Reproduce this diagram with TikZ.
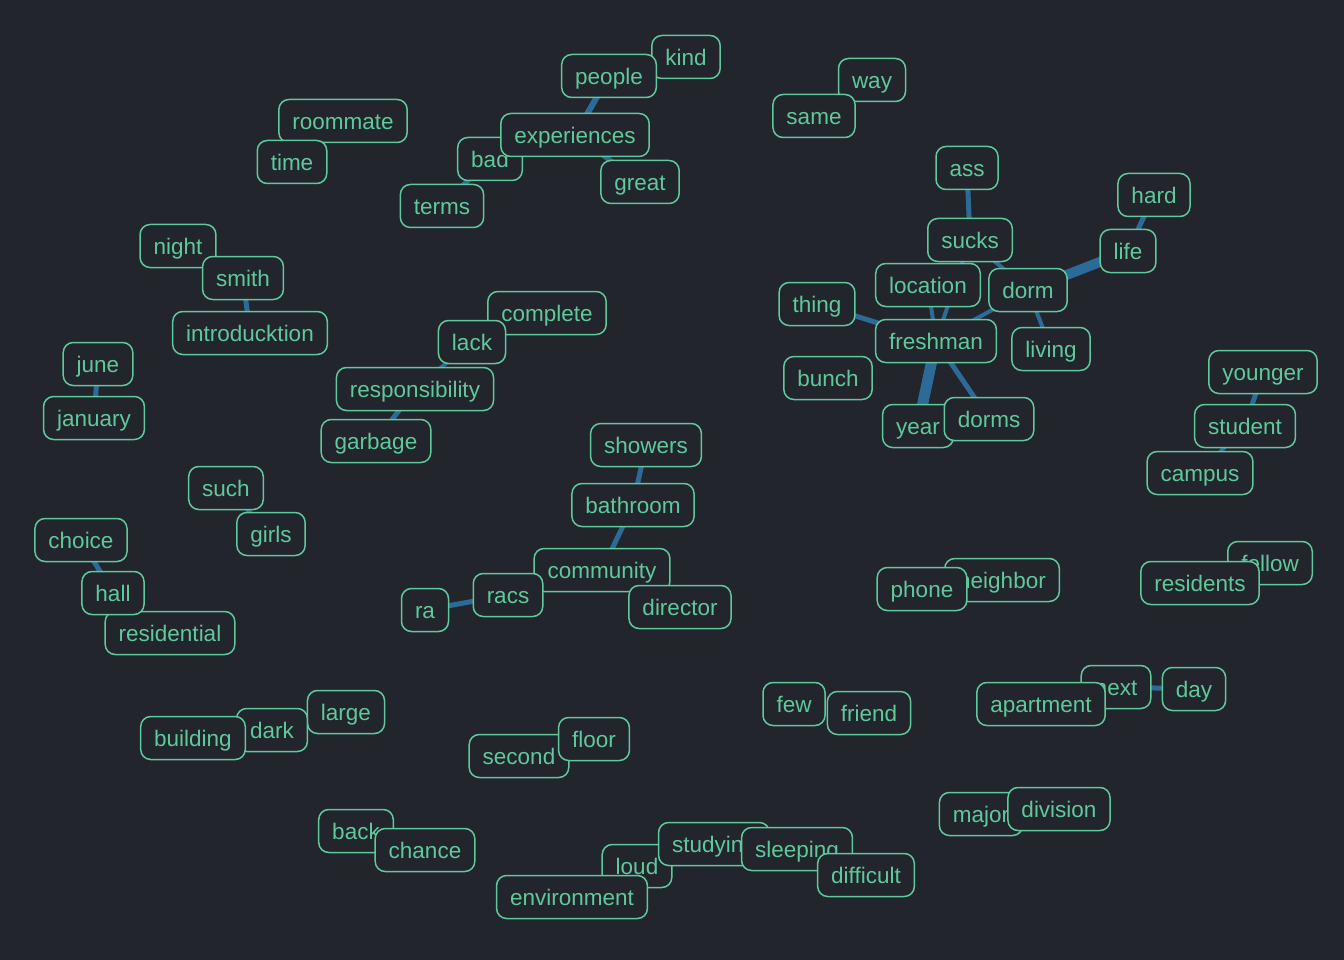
\documentclass[tikz,border=0pt]{standalone}
\usepackage{fontspec}
\setmainfont{Liberation Sans}
\definecolor{canvas}{HTML}{23252C}
\definecolor{wordgreen}{HTML}{5FC99B}
\definecolor{linkblue}{HTML}{2C6B98}
\pgfdeclarelayer{background}
\pgfdeclarelayer{links}
\pgfsetlayers{background,links,main}

\begin{document}
\begin{tikzpicture}[x=1pt,y=-1pt]
  \tikzstyle{word}=[rectangle,rounded corners=10pt,draw=wordgreen,line width=1.5pt,
                    fill=canvas,text=wordgreen,font=\fontsize{22.5}{26}\selectfont,
                    minimum height=43pt,inner xsep=13.5pt,inner ysep=10.75pt,
                    text height=19.5pt,text depth=2pt]
  \tikzstyle{link}=[draw=linkblue,line cap=butt]

  \useasboundingbox (0,0) rectangle (1344,960);
  \begin{pgfonlayer}{background}
    \fill[canvas] (0,0) rectangle (1344,960);
  \end{pgfonlayer}

%% words, later ones lie on top of earlier ones
  \foreach \nm/\x/\y in {kind/686/57, people/609/76, bad/490/159, experiences/575/135,
                         great/640/182, terms/442/206, roommate/343/121, time/292/162,
                         way/872/80, same/814/116,
                         ass/967/168, hard/1154/195, sucks/970/240, life/1128/251,
                         location/928/285, dorm/1028/290, thing/817/304, freshman/936/341,
                         living/1051/349, bunch/828/378, year/918/426, dorms/989/419,
                         younger/1263/372, student/1245/426, campus/1200/473,
                         night/178/246, smith/243/278, introducktion/250/333,
                         complete/547/313, lack/472/342, responsibility/415/389, garbage/376/441,
                         june/98/364, january/94/418,
                         showers/646/445, bathroom/633/505, community/602/570,
                         racs/508/595, ra/425/610, director/680/607,
                         such/226/488, girls/271/534,
                         choice/81/540, residential/170/633, hall/113/593,
                         neighbor/1002/580, phone/922/589,
                         fellow/1270/563, residents/1200/583,
                         large/346/712, dark/272/730, building/193/738,
                         second/519/756, floor/594/739,
                         few/794/704, friend/869/713,
                         next/1116/687, day/1194/689, apartment/1041/704,
                         major/981/814, division/1059/809,
                         back/356/831, chance/425/850,
                         loud/637/866, studying/714/844, sleeping/797/849,
                         difficult/866/875, environment/572/897}
    \node[word] (\nm) at (\x,\y) {\nm};

%% connections, weight = line width
  \begin{pgfonlayer}{links}
  \foreach \a/\b/\w in {people/experiences/6, experiences/great/5, bad/terms/5,
                        ass/sucks/5, sucks/dorm/4, sucks/freshman/4, location/freshman/4,
                        dorm/freshman/4, dorm/living/4, life/dorm/10, hard/life/5,
                        thing/freshman/5, freshman/year/11, freshman/dorms/5,
                        younger/student/5, student/campus/4,
                        smith/introducktion/5, lack/responsibility/4, responsibility/garbage/5,
                        june/january/5, showers/bathroom/5, bathroom/community/5,
                        such/girls/4, choice/hall/5, racs/ra/5, next/day/5}
    \draw[link,line width=\w pt] (\a.center) -- (\b.center);
  \end{pgfonlayer}
\end{tikzpicture}
\end{document}
